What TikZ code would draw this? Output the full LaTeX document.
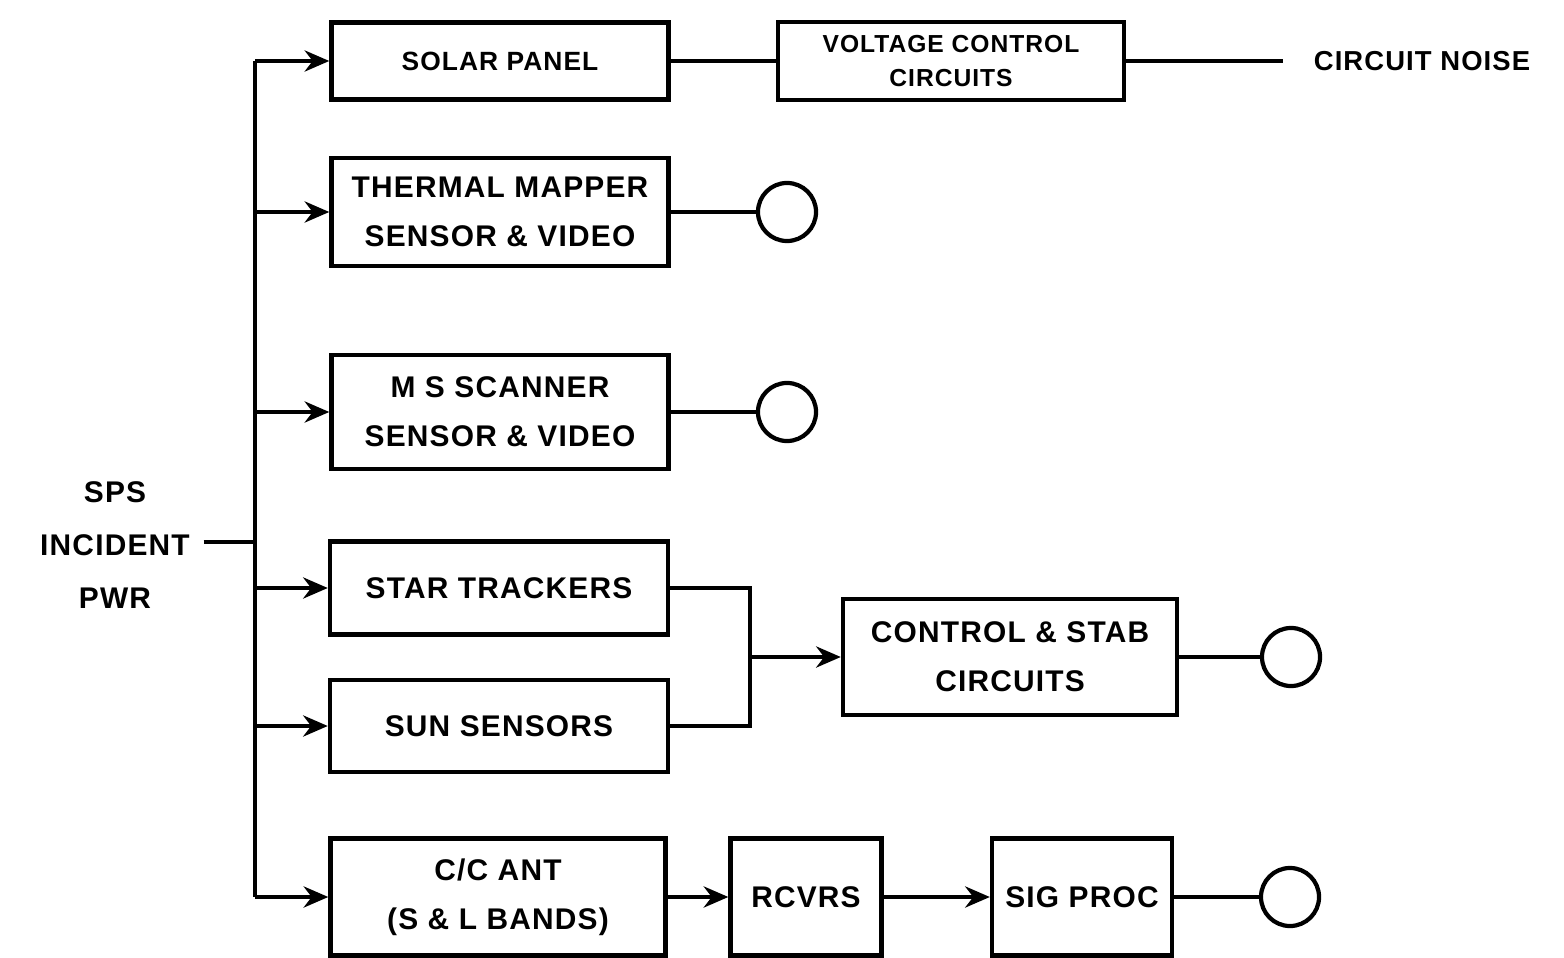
\documentclass[tikz,border=0pt]{standalone}
\usepackage{fontspec}
\setmainfont{Liberation Sans}[LetterSpace=4]
\usetikzlibrary{arrows.meta}

\begin{document}
\begin{tikzpicture}[x=0.01cm,y=-0.01cm,>={Stealth[length=7pt,width=6pt]},line width=1.2pt,
  box/.style={draw, rectangle, align=center, font=\bfseries\fontsize{8.5}{14}\selectfont},
  lbl/.style={align=center, font=\bfseries\fontsize{8.5}{15}\selectfont},
  sml/.style={font=\bfseries\fontsize{7}{9.5}\selectfont},
  port/.style={draw, circle, minimum size=0.58cm, inner sep=0pt}]
\useasboundingbox (0,0) rectangle (1564,958);

% input
\node[lbl] (sps) at (115,545) {SPS\\INCIDENT\\PWR};
\coordinate (busin) at (255,542);
\coordinate (bustop) at (255,61);
\coordinate (busbot) at (255,897);

% blocks
\node[box, font=\bfseries\fontsize{7.5}{9.5}\selectfont, minimum width=3.37cm, minimum height=0.77cm] (solar) at (500,61) {SOLAR PANEL};
\node[box, sml, minimum width=3.46cm, minimum height=0.78cm] (volt) at (951,61) {VOLTAGE CONTROL\\CIRCUITS};
\coordinate (noiseend) at (1283,61);
\node[font=\bfseries\fontsize{7.8}{9.5}\selectfont, anchor=west] (noise) at (1300,61) {CIRCUIT NOISE};

\node[box, minimum width=3.37cm, minimum height=1.08cm] (thermal) at (500,212) {THERMAL MAPPER\\SENSOR \& VIDEO};
\node[port] (out1) at (787,212) {};

\node[box, minimum width=3.37cm, minimum height=1.14cm] (mss) at (500,412) {M S SCANNER\\SENSOR \& VIDEO};
\node[port] (out2) at (787,412) {};

\node[box, minimum width=3.38cm, minimum height=0.93cm] (star) at (499,588) {STAR TRACKERS};
\node[box, minimum width=3.38cm, minimum height=0.92cm] (sun) at (499,726) {SUN SENSORS};
\coordinate (join) at (750,657);
\node[box, minimum width=3.34cm, minimum height=1.16cm] (ctrl) at (1010,657) {CONTROL \& STAB\\CIRCUITS};
\node[port] (out3) at (1291,657) {};

\node[box, minimum width=3.35cm, minimum height=1.17cm] (cant) at (498,897) {C/C ANT\\(S \& L BANDS)};
\node[box, minimum width=1.51cm, minimum height=1.17cm] (rcvrs) at (806,897) {RCVRS};
\node[box, minimum width=1.80cm, minimum height=1.17cm] (sig) at (1082,897) {SIG PROC};
\node[port] (out4) at (1290,897) {};

% power bus
\draw (sps.east |- busin) -- (busin);
\draw (bustop) -- (busbot);
\draw[->] (bustop) -- (solar.west);
\draw[->] (bustop |- thermal.west) -- (thermal.west);
\draw[->] (bustop |- mss.west) -- (mss.west);
\draw[->] (bustop |- star.west) -- (star.west);
\draw[->] (bustop |- sun.west) -- (sun.west);
\draw[->] (busbot) -- (cant.west);

% signal paths
\draw (solar) -- (volt);
\draw (volt) -- (noiseend);
\draw (thermal) -- (out1);
\draw (mss) -- (out2);
\draw (star.east) -| (join);
\draw (sun.east) -| (join);
\draw[->] (join) -- (ctrl.west);
\draw (ctrl) -- (out3);
\draw[->] (cant) -- (rcvrs);
\draw[->] (rcvrs) -- (sig);
\draw (sig) -- (out4);
\end{tikzpicture}
\end{document}
